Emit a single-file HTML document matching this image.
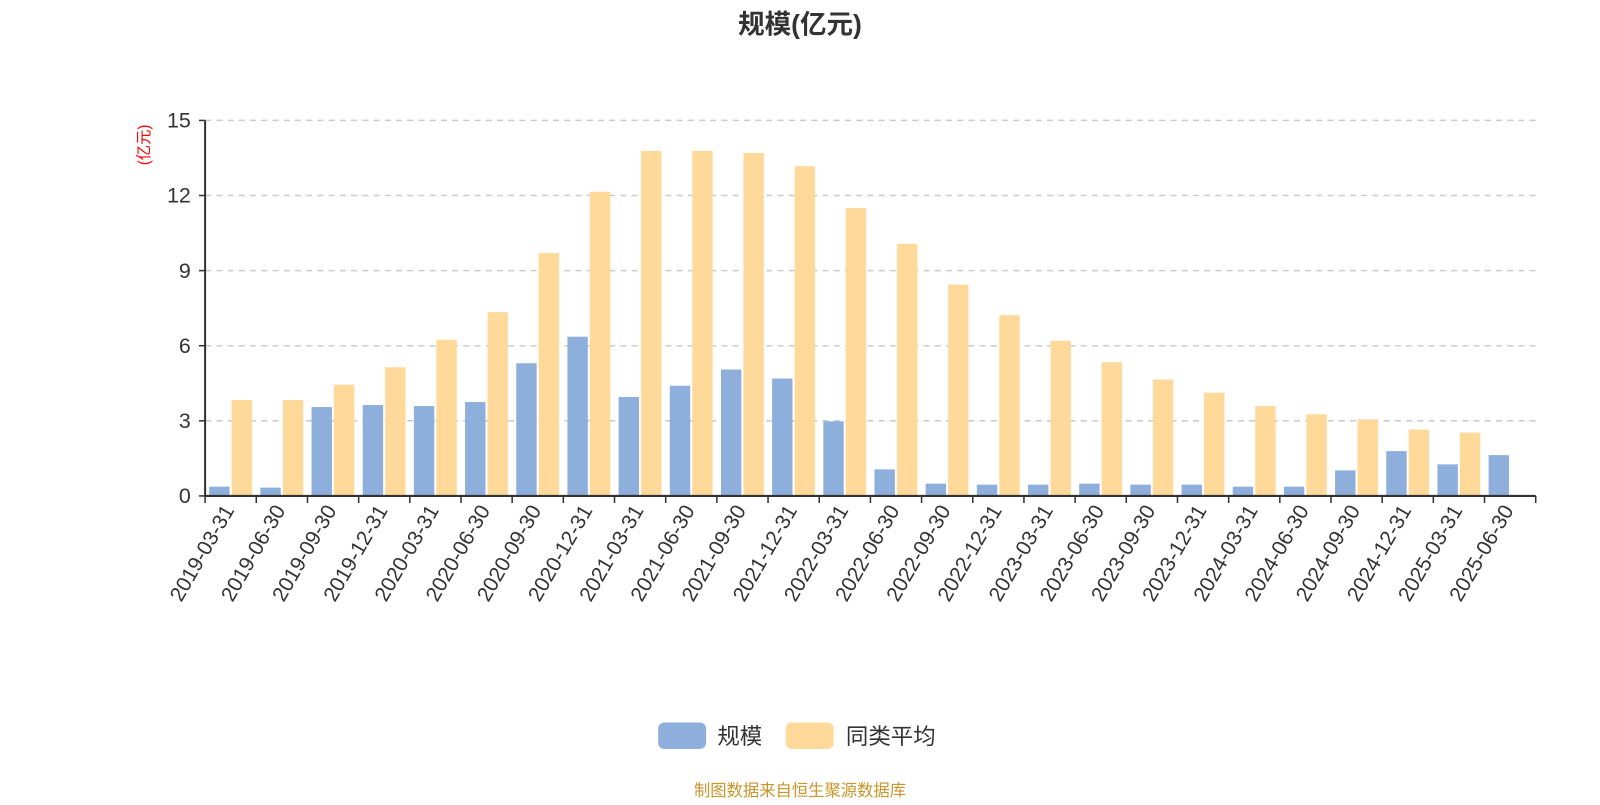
<!DOCTYPE html>
<html><head><meta charset="utf-8"><style>
body{margin:0;background:#fff;}
svg text{font-family:"Liberation Sans","Noto Sans CJK SC",sans-serif;}
</style></head><body>
<svg id="chart" width="1600" height="800" viewBox="0 0 1568 784" xmlns="http://www.w3.org/2000/svg">
<text x="784" y="33" text-anchor="middle" font-size="26" font-weight="bold" fill="#333">规模(亿元)</text>
<text transform="translate(146,142) rotate(-90)" text-anchor="middle" font-size="15" fill="#ff0000">(亿元)</text>
<g id="grid"></g><g id="bars"></g><g id="axes"></g>
<g>
<rect x="645" y="708" width="47" height="26" rx="6" fill="#8eaedb"/>
<text x="703" y="729" font-size="22" fill="#333">规模</text>
<rect x="770" y="708" width="47" height="26" rx="6" fill="#ffd999"/>
<text x="829" y="729" font-size="22" fill="#333">同类平均</text>
</g>
<text x="784" y="780" text-anchor="middle" font-size="16" fill="#c8962a">制图数据来自恒生聚源数据库</text>
</svg>
<script>
const categories=["2019-03-31","2019-06-30","2019-09-30","2019-12-31","2020-03-31","2020-06-30","2020-09-30","2020-12-31","2021-03-31","2021-06-30","2021-09-30","2021-12-31","2022-03-31","2022-06-30","2022-09-30","2022-12-31","2023-03-31","2023-06-30","2023-09-30","2023-12-31","2024-03-31","2024-06-30","2024-09-30","2024-12-31","2025-03-31","2025-06-30"];
const scaleValues=[0.37,0.33,3.55,3.63,3.59,3.75,5.3,6.36,3.95,4.4,5.05,4.69,2.98,1.06,0.49,0.45,0.45,0.49,0.45,0.45,0.37,0.37,1.02,1.79,1.26,1.63];
const avgValues=[3.83,3.83,4.44,5.14,6.24,7.34,9.7,12.15,13.78,13.78,13.7,13.17,11.5,10.07,8.44,7.22,6.2,5.34,4.65,4.12,3.59,3.26,3.06,2.65,2.53,null];
const yTicks=[0,3,6,9,12,15];
const NS="http://www.w3.org/2000/svg";
const X0=201,X1=1505,Y0=486,Y1=118,YMAX=15;
const bw=(X1-X0)/categories.length;
const y=v=>Y0-(v/YMAX)*(Y0-Y1);
const xb=i=>X0+i*bw;
function mk(tag,attrs,parent){const e=document.createElementNS(NS,tag);for(const k in attrs)e.setAttribute(k,attrs[k]);parent.appendChild(e);return e;}
const grid=document.getElementById('grid'),bars=document.getElementById('bars'),axes=document.getElementById('axes');
yTicks.forEach(t=>{
 if(t>0){const l=mk('line',{x1:X0,x2:X1,y1:y(t),y2:y(t),stroke:'#ccc','stroke-width':1.5,'stroke-dasharray':'6,5'},grid);
 
 }
 const tk=mk('line',{x1:X0-6,x2:X0,y1:y(t),y2:y(t),stroke:'#333','stroke-width':1.5},axes);
 
 
 const tx=mk('text',{x:X0-14,y:y(t)+7,'text-anchor':'end','font-size':21,fill:'#333'},axes);
 tx.textContent=t;
 
 
});
categories.forEach((c,i)=>{
 const b0=xb(i);
 if(scaleValues[i]!=null){const r=mk('rect',{x:b0+4,y:y(scaleValues[i]),width:20,height:Y0-y(scaleValues[i]),fill:'#8eaedb'},bars);
 
 }
 if(avgValues[i]!=null){const r=mk('rect',{x:b0+26,y:y(avgValues[i]),width:20,height:Y0-y(avgValues[i]),fill:'#ffd999'},bars);
 
 }
 const cx=b0+bw/2;
 const tx=mk('text',{transform:`translate(${cx+4},${Y0+14}) rotate(-60)`,'text-anchor':'end','font-size':20.5,fill:'#333'},axes);
 tx.textContent=c;
 
 
});
for(let i=0;i<=categories.length;i++){
 const tk=mk('line',{x1:xb(i),x2:xb(i),y1:Y0,y2:Y0+7,stroke:'#333','stroke-width':1.5},axes);
 
 
}
const xa=mk('line',{x1:X0,x2:X1,y1:Y0,y2:Y0,stroke:'#333','stroke-width':2},axes);


const ya=mk('line',{x1:X0,x2:X0,y1:Y1,y2:Y0,stroke:'#333','stroke-width':2},axes);


</script>
</body></html>
